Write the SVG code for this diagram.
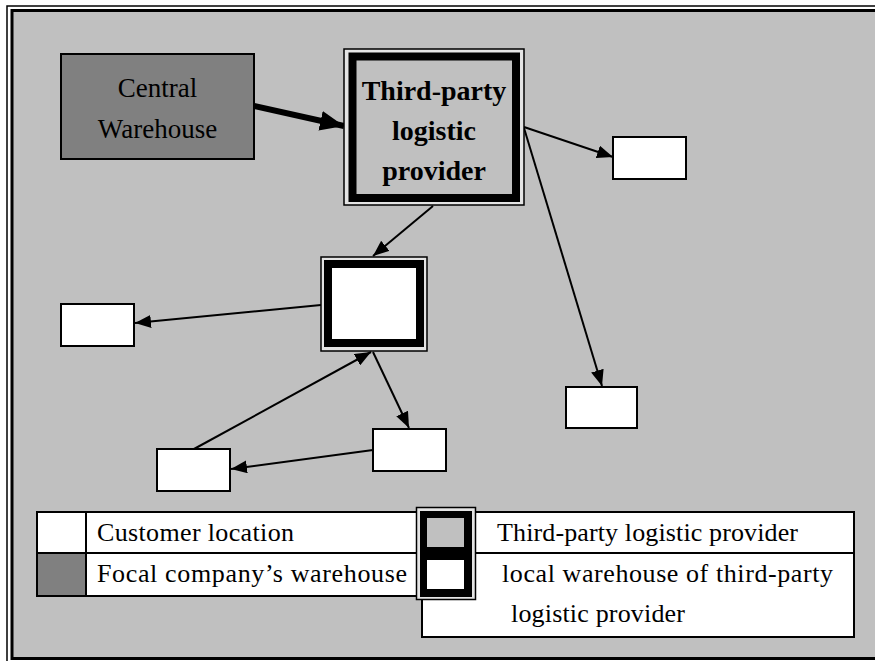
<svg xmlns="http://www.w3.org/2000/svg" width="875" height="661" viewBox="0 0 875 661">
  <defs>
    <style>
      .txt { font-family: "Liberation Serif", "Times New Roman", serif; fill: #000; }
      .node-label { font-size: 27px; text-anchor: middle; }
      .tpl-label { font-size: 28px; font-weight: bold; text-anchor: middle; }
      .legend { font-size: 26px; }
      .cust { fill: #fff; stroke: #000; stroke-width: 2; }
      .conn { stroke: #000; stroke-width: 2; fill: none; marker-end: url(#arrow); }
      .conn-thick { stroke: #000; stroke-width: 6; fill: none; marker-end: url(#arrow-big); }
      .thin-frame { stroke: #000; stroke-width: 1.5; fill: #e4e4e4; }
      .band { fill: none; stroke: #000; stroke-width: 8; }
      .cell { fill: #fff; stroke: #000; stroke-width: 2; }
    </style>
    <marker id="arrow" markerUnits="userSpaceOnUse" markerWidth="16" markerHeight="13" refX="16" refY="6.5" orient="auto">
      <path d="M0,0 L16,6.5 L0,13 Z" fill="#000"/>
    </marker>
    <marker id="arrow-big" markerUnits="userSpaceOnUse" markerWidth="24" markerHeight="20" refX="24" refY="10" orient="auto">
      <path d="M0,0 L24,10 L0,20 Z" fill="#000"/>
    </marker>
  </defs>

  <!-- page frame -->
  <rect x="0" y="0" width="875" height="661" fill="#fff"/>
  <rect x="7" y="6" width="880" height="665" fill="none" stroke="#000" stroke-width="1.5"/>
  <rect x="12" y="10.5" width="875" height="648" fill="#c0c0c0" stroke="#000" stroke-width="3"/>

  <!-- connectors -->
  <g id="connectors">
    <line class="conn-thick" x1="254" y1="106" x2="344" y2="126"/>
    <line class="conn" x1="524" y1="127" x2="613" y2="157"/>
    <line class="conn" x1="524" y1="128" x2="602" y2="386"/>
    <line class="conn" x1="433" y1="206" x2="373" y2="256"/>
    <line class="conn" x1="321" y1="305" x2="135" y2="323"/>
    <line class="conn" x1="373" y1="352" x2="409" y2="428"/>
    <line class="conn" x1="373" y1="450" x2="231" y2="469"/>
    <line class="conn" x1="194" y1="449" x2="371" y2="352"/>
  </g>

  <!-- focal company's central warehouse -->
  <g id="central-warehouse">
    <rect x="61" y="54" width="193" height="105" fill="#808080" stroke="#000" stroke-width="2"/>
    <text class="txt node-label" x="157.5" y="97">Central</text>
    <text class="txt node-label" x="157.5" y="138">Warehouse</text>
  </g>

  <!-- third-party logistic provider -->
  <g id="tpl-provider">
    <rect class="thin-frame" x="344" y="49" width="180" height="156"/>
    <rect class="band" x="352.5" y="56.5" width="163.5" height="141.5" fill="#c0c0c0" style="fill:#c0c0c0"/>
    <text class="txt tpl-label" x="434" y="100">Third-party</text>
    <text class="txt tpl-label" x="434" y="140">logistic</text>
    <text class="txt tpl-label" x="434" y="180">provider</text>
  </g>

  <!-- local warehouse of the provider -->
  <g id="local-warehouse">
    <rect class="thin-frame" x="321" y="257" width="106" height="94"/>
    <rect class="band" x="328" y="264" width="92" height="79" style="fill:#fff"/>
  </g>

  <!-- customer locations -->
  <g id="customer-1"><rect class="cust" x="613" y="137" width="73" height="42"/></g>
  <g id="customer-2"><rect class="cust" x="566" y="387" width="71" height="41"/></g>
  <g id="customer-3"><rect class="cust" x="61" y="304" width="73" height="42"/></g>
  <g id="customer-4"><rect class="cust" x="373" y="429" width="73" height="42"/></g>
  <g id="customer-5"><rect class="cust" x="157" y="449" width="73" height="42"/></g>

  <!-- legend -->
  <g id="legend">
    <rect class="cell" x="37" y="512" width="385" height="84"/>
    <line x1="37" y1="553" x2="422" y2="553" stroke="#000" stroke-width="2"/>
    <rect x="37" y="553" width="49" height="43" fill="#808080" stroke="#000" stroke-width="2"/>
    <line x1="86" y1="512" x2="86" y2="596" stroke="#000" stroke-width="2"/>

    <rect class="cell" x="422" y="512" width="432" height="125"/>
    <line x1="422" y1="553" x2="854" y2="553" stroke="#000" stroke-width="2"/>

    <rect class="thin-frame" x="416.5" y="507.5" width="59" height="92"/>
    <rect x="420" y="511" width="52" height="86" fill="#000"/>
    <rect x="427" y="518" width="37" height="29" fill="#c0c0c0"/>
    <rect x="427" y="560" width="37" height="29" fill="#fff"/>

    <text class="txt legend" x="97" y="541" textLength="197" lengthAdjust="spacing">Customer location</text>
    <text class="txt legend" x="97" y="582" textLength="310" lengthAdjust="spacing">Focal company’s warehouse</text>
    <text class="txt legend" x="497" y="541" textLength="301" lengthAdjust="spacing">Third-party logistic provider</text>
    <text class="txt legend" x="502" y="582" textLength="331" lengthAdjust="spacing">local warehouse of third-party</text>
    <text class="txt legend" x="511" y="622" textLength="174" lengthAdjust="spacing">logistic provider</text>
  </g>
</svg>
